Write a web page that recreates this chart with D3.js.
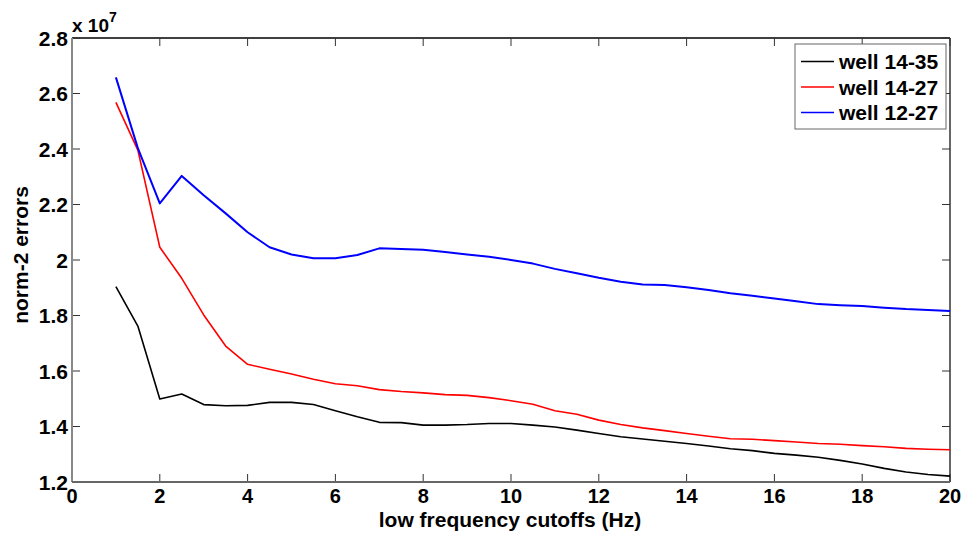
<!DOCTYPE html>
<html>
<head>
<meta charset="utf-8">
<script src="https://cdnjs.cloudflare.com/ajax/libs/d3/7.8.5/d3.min.js"></script>
<style>
  body { margin: 0; background: #fff; }
  svg text { font-family: Arial, "Liberation Sans", sans-serif; font-weight: bold; fill: #000; }
</style>
</head>
<body>
<div id="chart"></div>
<script>
// cutoff frequencies (Hz)
var cutoffs = [1, 1.5, 2, 2.5, 3, 3.5, 4, 4.5, 5, 5.5, 6, 6.5, 7, 7.5, 8, 8.5, 9, 9.5, 10,
  10.5, 11, 11.5, 12, 12.5, 13, 13.5, 14, 14.5, 15, 15.5, 16, 16.5, 17, 17.5, 18, 18.5, 19, 19.5, 20];

// norm-2 errors, in units of 1e7
var well1435 = [1.904, 1.762, 1.499, 1.517, 1.479, 1.475, 1.476, 1.487, 1.487, 1.479, 1.457, 1.435, 1.415,
  1.414, 1.405, 1.405, 1.407, 1.411, 1.411, 1.405, 1.398, 1.387, 1.375, 1.363, 1.355, 1.347, 1.339,
  1.330, 1.320, 1.313, 1.303, 1.297, 1.289, 1.278, 1.265, 1.249, 1.236, 1.227, 1.221];
var well1427 = [2.568, 2.396, 2.046, 1.934, 1.802, 1.690, 1.624, 1.606, 1.589, 1.570, 1.554, 1.547, 1.533,
  1.526, 1.521, 1.515, 1.512, 1.504, 1.493, 1.480, 1.457, 1.444, 1.423, 1.407, 1.395, 1.385, 1.375,
  1.365, 1.356, 1.354, 1.349, 1.344, 1.339, 1.336, 1.331, 1.327, 1.321, 1.318, 1.316];
var well1227 = [2.658, 2.403, 2.204, 2.303, 2.233, 2.168, 2.100, 2.046, 2.020, 2.006, 2.006, 2.018, 2.042,
  2.040, 2.037, 2.029, 2.020, 2.012, 2.000, 1.987, 1.968, 1.952, 1.936, 1.922, 1.912, 1.910, 1.902,
  1.892, 1.880, 1.871, 1.861, 1.851, 1.841, 1.837, 1.834, 1.828, 1.823, 1.820, 1.816];

var seriesNames = ["well 14-35", "well 14-27", "well 12-27"];
var seriesColors = ["#000000", "#ff0000", "#0000ff"];
var xTicks = [0, 2, 4, 6, 8, 10, 12, 14, 16, 18, 20];
var yTicks = [1.2, 1.4, 1.6, 1.8, 2, 2.2, 2.4, 2.6, 2.8];

var width = 964, height = 535;
var margin = {top: 38, right: 14, bottom: 53, left: 72};
var w = width - margin.left - margin.right;
var h = height - margin.top - margin.bottom;

var svg = d3.select("#chart").append("svg")
  .attr("width", width)
  .attr("height", height);

var g = svg.append("g")
  .attr("transform", "translate(" + margin.left + "," + margin.top + ")");

var x = d3.scaleLinear().domain([0, 20]).range([0, w]);
var y = d3.scaleLinear().domain([1.2, 2.8]).range([h, 0]);

// box
g.append("line").attr("x1", 0).attr("x2", w).attr("y1", 0).attr("y2", 0)
  .attr("stroke", "#000").attr("stroke-width", 1.5);
g.append("line").attr("x1", w).attr("x2", w).attr("y1", 0).attr("y2", h)
  .attr("stroke", "#333").attr("stroke-width", 1.5);

// inner ticks on all four sides
var tickLen = 8;
g.selectAll(".xtb").data(xTicks).enter().append("line")
  .attr("x1", d => x(d)).attr("x2", d => x(d)).attr("y1", h).attr("y2", h - tickLen)
  .attr("stroke", "#333").attr("stroke-width", 1);
g.selectAll(".xtt").data(xTicks).enter().append("line")
  .attr("x1", d => x(d)).attr("x2", d => x(d)).attr("y1", 0).attr("y2", tickLen)
  .attr("stroke", "#333").attr("stroke-width", 1);
g.selectAll(".ytl").data(yTicks).enter().append("line")
  .attr("x1", 0).attr("x2", tickLen).attr("y1", d => y(d)).attr("y2", d => y(d))
  .attr("stroke", "#333").attr("stroke-width", 1);
g.selectAll(".ytr").data(yTicks).enter().append("line")
  .attr("x1", w).attr("x2", w - tickLen).attr("y1", d => y(d)).attr("y2", d => y(d))
  .attr("stroke", "#333").attr("stroke-width", 1);

// left and bottom axis lines
g.append("line").attr("x1", 0).attr("x2", 0).attr("y1", 0).attr("y2", h)
  .attr("stroke", "#888").attr("stroke-width", 2);
g.append("line").attr("x1", 0).attr("x2", w).attr("y1", h).attr("y2", h)
  .attr("stroke", "#666").attr("stroke-width", 2);

// tick labels
g.selectAll(".xl").data(xTicks).enter().append("text")
  .attr("x", d => x(d)).attr("y", h + 21)
  .attr("text-anchor", "middle")
  .style("font-size", "20px")
  .text(d => d);
g.selectAll(".yl").data(yTicks).enter().append("text")
  .attr("x", -4).attr("y", d => y(d) + 7.5)
  .attr("text-anchor", "end")
  .style("font-size", "21px")
  .text(d => d);

// exponent
var ex = g.append("text").attr("x", 0).attr("y", -6).style("font-size", "19px");
ex.append("tspan").text("x 10");
ex.append("tspan").attr("dy", -10).style("font-size", "14px").text("7");

// axis titles
g.append("text")
  .attr("x", w / 2 - 1).attr("y", h + 45)
  .attr("text-anchor", "middle")
  .style("font-size", "21px")
  .text("low frequency cutoffs (Hz)");
g.append("text")
  .attr("transform", "translate(-44," + (255 - margin.top) + ") rotate(-90)")
  .attr("text-anchor", "middle")
  .style("font-size", "21px")
  .text("norm-2 errors");

// lines
var allSeries = [well1435, well1427, well1227];
var line = d3.line()
  .x((d, i) => x(cutoffs[i]))
  .y(d => y(d));

g.selectAll(".series").data(allSeries).enter().append("path")
  .attr("class", "series")
  .attr("fill", "none")
  .attr("stroke", (d, i) => seriesColors[i])
  .attr("stroke-width", (d, i) => i == 2 ? 2 : 1.6)
  .attr("stroke-linejoin", "round")
  .attr("d", line);

// legend
var lg = g.append("g").attr("transform", "translate(" + (w - 155) + ",6)");
lg.append("rect").attr("width", 151).attr("height", 85)
  .attr("fill", "#fff").attr("stroke", "#666").attr("stroke-width", 1);
seriesNames.forEach(function(name, i) {
  var ry = 17.5 + i * 25.5;
  lg.append("line").attr("x1", 6).attr("x2", 39).attr("y1", ry).attr("y2", ry)
    .attr("stroke", seriesColors[i]).attr("stroke-width", 1.5);
  lg.append("text").attr("x", 44).attr("y", ry + 7.5)
    .style("font-size", "21px")
    .text(name);
});
</script>
</body>
</html>
